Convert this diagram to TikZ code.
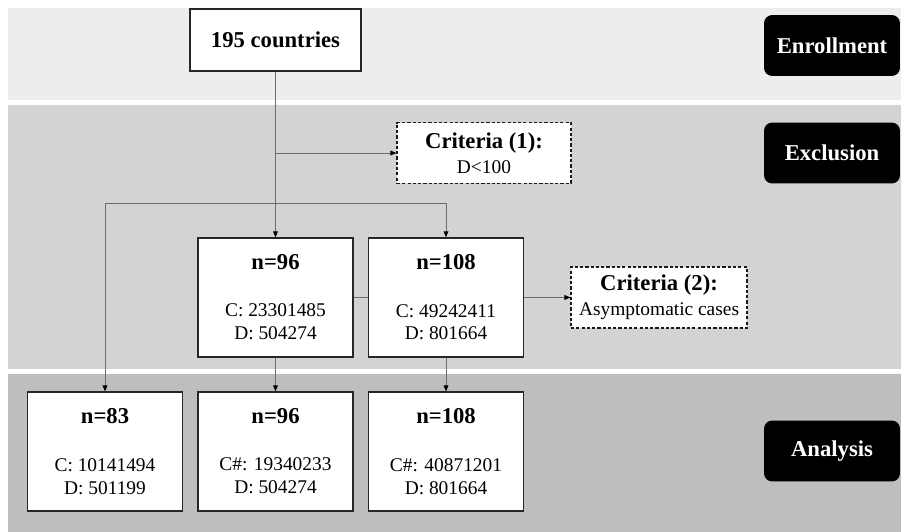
\documentclass[tikz,border=0pt]{standalone}
\usepackage{fontspec}
\setmainfont{Liberation Serif}
\usepackage{tikz}
\usetikzlibrary{arrows.meta,positioning,calc}
\definecolor{bandTop}{HTML}{EDEDED}
\definecolor{bandMid}{HTML}{D3D3D3}
\definecolor{bandLow}{HTML}{BEBEBE}
\definecolor{lineGray}{HTML}{6E6E6E}
\newcommand{\boldsz}{\fontsize{21.5}{23}\selectfont\bfseries}
\newcommand{\plainsz}{\fontsize{18.4}{21.8}\selectfont}
\tikzset{
  caja/.style={draw=black!85, line width=1.2pt, fill=white, align=center, font=\plainsz, inner sep=0pt, minimum width=5.167cm, minimum height=3.967cm},
  critcaja/.style={draw=black!90, line width=1.1pt, dash pattern=on 3pt off 2pt, fill=white, align=center, font=\plainsz, inner sep=0pt, minimum height=2.03cm},
  etapa/.style={fill=black, rounded corners=2.7mm, text=white, font=\boldsz, minimum width=4.53cm, minimum height=2.03cm, inner sep=0pt},
  linea/.style={draw=lineGray, line width=0.8pt},
  arrflow/.style={linea, -{Triangle[length=2mm, width=1.6mm, black]}},
}

\begin{document}
\begin{tikzpicture}
\useasboundingbox (0,0) rectangle (30.033,17.733);
% bandas de fondo
\fill[bandTop] (0.267,14.4) rectangle (30.033,17.467);
\fill[bandMid] (0.267,5.433) rectangle (30.033,14.233);
\fill[bandLow] (0.267,0) rectangle (30.033,5.267);

\node[etapa] (enr) at (27.733,16.217) {Enrollment};
\node[etapa] (exc) at (27.733,12.633) {Exclusion};
\node[etapa] (ana) at (27.733,2.7) {Analysis};

\node[caja, minimum width=5.7cm, minimum height=2.067cm] (countries) at (9.183,16.4) {{\boldsz 195 countries}};
\node[critcaja, minimum width=5.8cm] (crit1) at (16.133,12.633) {{\boldsz Criteria (1):}\\[2pt] D<100};

\node[caja] (m96) at (9.183,7.817) {{\boldsz n=96}\\[23pt] C: 23301485\\ D: 504274};
\node[caja] (m108) at (14.867,7.817) {{\boldsz n=108}\\[23pt] C: 49242411\\ D: 801664};
\node[critcaja, minimum width=5.867cm] (crit2) at (21.967,7.817) {{\boldsz Criteria (2):}\\[2pt] Asymptomatic cases};

\node[caja] (b83) at (3.5,2.683) {{\boldsz n=83}\\[23pt] C: 10141494\\ D: 501199};
\node[caja] (b96) at (9.183,2.683) {{\boldsz n=96}\\[23pt] C\#: 19340233\\ D: 504274};
\node[caja] (b108) at (14.867,2.683) {{\boldsz n=108}\\[23pt] C\#: 40871201\\ D: 801664};

\coordinate (fork) at (9.183,10.967);

% conectores
\draw[linea] (countries.south) -- (fork);
\draw[arrflow] (countries.south |- crit1.west) -- (crit1.west);
\draw[arrflow] (fork) -- (m96.north);
\draw[arrflow] (fork) -| (m108.north);
\draw[arrflow] (fork) -| (b83.north);
\draw[linea] (m96.east) -- (m108.west);
\draw[arrflow] (m108.east) -- (crit2.west);
\draw[arrflow] (m96.south) -- (b96.north);
\draw[arrflow] (m108.south) -- (b108.north);
\end{tikzpicture}
\end{document}
